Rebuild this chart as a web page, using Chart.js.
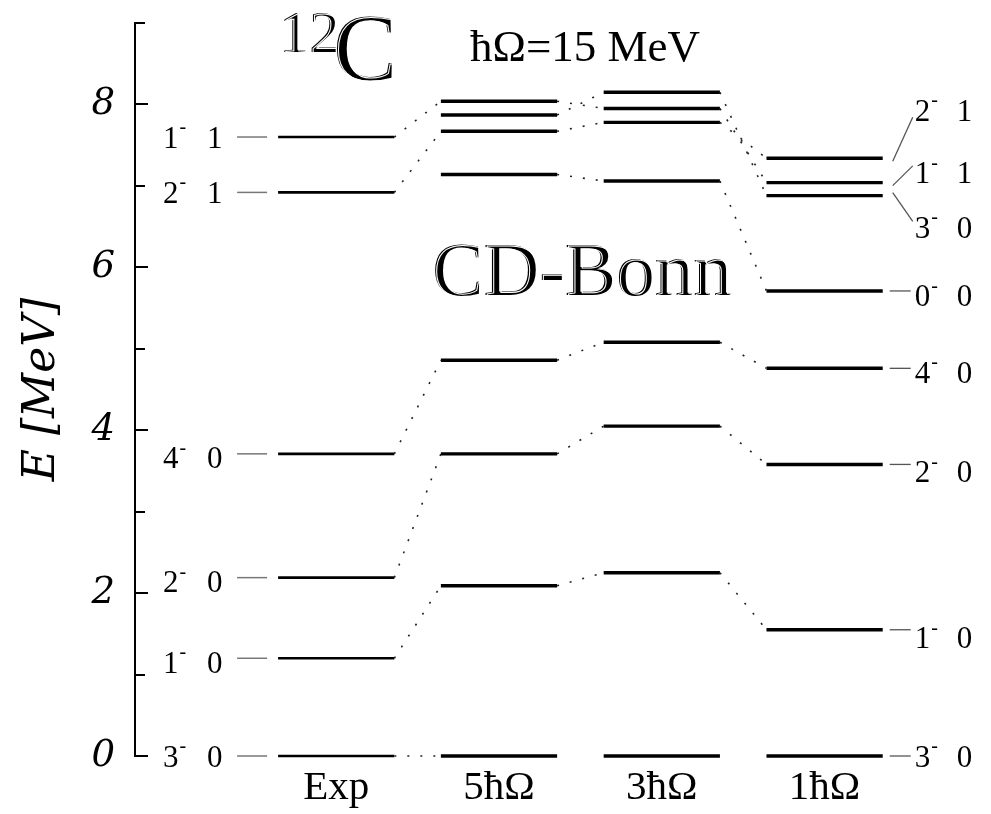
<!DOCTYPE html>
<html><head><meta charset="utf-8">
<script src="https://cdn.jsdelivr.net/npm/chart.js@4.4.1/dist/chart.umd.min.js"></script>
<style>html,body{margin:0;padding:0;background:#fff}#wrap{width:991px;height:814px;position:relative}</style>
</head><body><div id="wrap"><canvas id="c"></canvas></div>
<script>
// ---- data ----
const columns = ['Exp', '5ħΩ', '3ħΩ', '1ħΩ'];
const stateJ = ['3', '1', '2', '4', '0', '2', '1', '3'];
const stateT = ['0', '0', '0', '0', '0', '1', '1', '0'];
const eExp = [0, 1.20, 2.19, 3.71, null, 6.92, 7.60, null];
const e5 = [0, 2.09, 3.71, 4.86, 7.14, 7.67, 8.04, 7.87];
const e3 = [0, 2.25, 4.05, 5.08, 7.06, 7.78, 7.95, 8.15];
const e1 = [0, 1.55, 3.58, 4.76, 5.71, 7.34, 7.04, 6.88];
const linkExp5 = [1, 1, 1, 1, 0, 1, 1, 0];
const link53 = [0, 1, 1, 1, 1, 1, 1, 1];
const link31 = [0, 1, 1, 1, 1, 1, 1, 1];
const yTicks = [0, 1, 2, 3, 4, 5, 6, 7, 8, 9];
const yTickLabels = ['0', '', '2', '', '4', '', '6', '', '8', ''];
// ---- layout helpers (not data) ----
const rightLabelAt = [0, 1.45, 3.49, 4.71, 5.65, 7.93, 7.16, 6.49];
const rightLeaderOff = [null, null, null, null, null, 7, -7, -6];
const HW = 0.357;

const energies = [eExp, e5, e3, e1];
const links = [linkExp5, link53, link31];
const datasets = [];
// dotted connectors
links.forEach((lk, g) => {
  lk.forEach((on, s) => {
    const a = energies[g][s], b = energies[g + 1][s];
    if (!on || a == null || b == null) return;
    datasets.push({data: [{x: g + HW, y: a}, {x: g + 1 - HW, y: b}], showLine: true,
      borderColor: '#222', borderWidth: 1.6, borderDash: [2, 11], pointRadius: 0, clip: false});
  });
});
// levels
energies.forEach((arr, c) => {
  arr.forEach(v => {
    if (v == null) return;
    datasets.push({data: [{x: c - HW, y: v}, {x: c + HW, y: v}], showLine: true,
      borderColor: '#000', borderWidth: c === 0 ? 2.6 : 3.4, pointRadius: 0, clip: false, borderCapStyle: 'butt'});
  });
});

function jt(ctx, J, T, xJ, xT, yc) {
  const fs = 31;
  ctx.font = fs + 'px "Liberation Serif"';
  ctx.textBaseline = 'alphabetic';
  ctx.textAlign = 'left';
  ctx.fillStyle = '#000';
  const base = yc + 0.34 * fs;
  ctx.fillText(J, xJ, base);
  const w = ctx.measureText(J).width;
  ctx.font = '20px "Liberation Serif"';
  ctx.fillText('-', xJ + w + 1, base - 0.47 * fs);
  ctx.font = fs + 'px "Liberation Serif"';
  ctx.fillText(T, xT, base);
}
function engraved(ctx, text, x, y, font) {
  ctx.font = font;
  ctx.textAlign = 'left';
  ctx.textBaseline = 'alphabetic';
  ctx.fillStyle = '#000';
  ctx.fillText(text, x, y);
  ctx.strokeStyle = '#fff';
  ctx.lineWidth = 1;
  ctx.strokeText(text, x + 1.6, y + 1);
}

const deco = {
  id: 'deco',
  afterDraw(chart) {
    const ctx = chart.ctx, xs = chart.scales.x, ys = chart.scales.y;
    ctx.save();
    // axis ticks, drawn inward
    ctx.strokeStyle = '#000'; ctx.lineWidth = 2;
    const ax = chart.chartArea.left;
    yTicks.forEach((v, i) => {
      const py = Math.round(ys.getPixelForValue(v));
      const len = (i % 2 === 0) ? 13 : 10;
      ctx.beginPath(); ctx.moveTo(ax - 1, py); ctx.lineTo(ax + len, py); ctx.stroke();
    });
    // left labels (Exp)
    const xl = xs.getPixelForValue(-HW);
    ctx.strokeStyle = '#777'; ctx.lineWidth = 1.5;
    eExp.forEach((v, s) => {
      if (v == null) return;
      const py = ys.getPixelForValue(v);
      ctx.beginPath(); ctx.moveTo(xl - 41, py); ctx.lineTo(xl - 11, py); ctx.stroke();
      jt(ctx, stateJ[s], stateT[s], xl - 115, xl - 71, py + (s >= 1 && s <= 3 ? 4 : 0));
    });
    // right labels (1ħΩ)
    const xr = xs.getPixelForValue(3 + HW);
    e1.forEach((v, s) => {
      const py = ys.getPixelForValue(v);
      const ly = ys.getPixelForValue(rightLabelAt[s]);
      ctx.strokeStyle = '#555'; ctx.lineWidth = 1.3;
      ctx.beginPath();
      if (rightLeaderOff[s] == null) { ctx.moveTo(xr + 7, py); ctx.lineTo(xr + 28, py); }
      else { ctx.moveTo(xr + 10, py - 3 * Math.sign(ly - py)); ctx.lineTo(xr + 30, ly + rightLeaderOff[s]); }
      ctx.stroke();
      jt(ctx, stateJ[s], stateT[s], xr + 32, xr + 74, ly);
    });
    // titles
    engraved(ctx, '12', 279, 52, '60px "Liberation Serif"');
    engraved(ctx, 'C', 333, 80, '96px "Liberation Serif"');
    ctx.fillStyle = '#000';
    ctx.font = '45px "Liberation Serif"';
    ctx.fillText('ħΩ=15 MeV', 470, 61);
    engraved(ctx, 'CD-Bonn', 432, 295, '77px "Liberation Serif"');
    ctx.restore();
  }
};

new Chart(document.getElementById('c'), {
  type: 'scatter',
  data: {datasets},
  plugins: [deco],
  options: {
    responsive: true, maintainAspectRatio: false, animation: false,
    devicePixelRatio: 1,
    layout: {padding: {top: 23, right: 15, bottom: 0, left: 0}},
    plugins: {legend: {display: false}, tooltip: {enabled: false}, title: {display: false}},
    scales: {
      x: {
        type: 'linear', min: -1.236, max: 3.93,
        grid: {display: false, drawTicks: false},
        border: {display: false},
        afterBuildTicks: s => { s.ticks = columns.map((c, i) => ({value: i})); },
        afterFit: s => { s.height = 58; s.paddingLeft = 0; s.paddingRight = 0; },
        ticks: {
          callback: (v) => columns[v] ?? '',
          font: {family: 'Liberation Serif', size: 41}, color: '#000', padding: 8,
          maxRotation: 0, autoSkip: false
        }
      },
      y: {
        type: 'linear', min: 0, max: 9,
        grid: {display: false, drawTicks: false},
        border: {display: true, color: '#000', width: 2},
        afterBuildTicks: s => { s.ticks = yTicks.map(v => ({value: v})); },
        afterFit: s => { s.width = 135; s.paddingTop = 0; s.paddingBottom = 0; },
        ticks: {
          callback: (v, i) => yTickLabels[i],
          font: {family: 'DejaVu Serif', size: 37, style: 'italic'}, color: '#000', padding: 20,
          autoSkip: false
        },
        title: {
          display: true, text: 'E [MeV]', color: '#000',
          font: {family: 'DejaVu Serif', size: 44, style: 'italic', lineHeight: 1},
          padding: {top: 21, bottom: 0}
        }
      }
    }
  }
});
</script></body></html>
